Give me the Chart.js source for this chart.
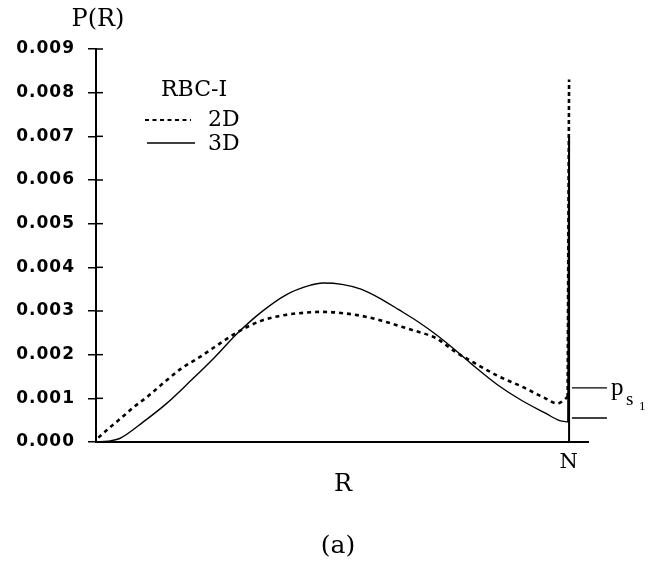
<!DOCTYPE html>
<html>
<head>
<meta charset="utf-8">
<script src="https://cdn.jsdelivr.net/npm/chart.js@4/dist/chart.umd.min.js"></script>
<style>
  html, body { margin: 0; padding: 0; background: #fff; }
  #wrap { width: 658px; height: 566px; }
</style>
</head>
<body>
<div id="wrap"><canvas id="chart" width="658" height="566"></canvas></div>
<script>
// R in units of N (N = 100), probability P(R)
const r3D = [0, 2.5, 5, 10, 15, 20, 25, 30, 35, 40, 45, 48, 52, 56, 60, 64, 68, 72, 76, 80, 85, 90, 95, 98, 99.8];
const p3D = [0, 0.00002, 0.00008, 0.00046, 0.00089, 0.00140, 0.00193, 0.00250, 0.00298, 0.00336, 0.00358, 0.00364, 0.00361, 0.00350, 0.00329, 0.00303, 0.00276, 0.00245, 0.00210, 0.00173, 0.00130, 0.00095, 0.00066, 0.00049, 0.00046];
const r2D = [0.5, 3, 5, 8, 11, 15, 18, 22, 25, 30, 35, 40, 44, 48, 53, 57, 60, 64, 67, 72, 76, 80, 85, 90, 95, 97.5, 99.7];
const p2D = [0.00010, 0.00034, 0.00052, 0.00080, 0.00105, 0.00142, 0.00168, 0.00195, 0.00217, 0.00252, 0.00278, 0.00291, 0.00296, 0.00298, 0.00294, 0.00287, 0.00279, 0.00266, 0.00256, 0.00237, 0.00206, 0.00181, 0.00151, 0.00127, 0.00100, 0.00088, 0.00103];
// spikes at R = N
const spikeR = 100;
const spike3D = 0.0070;
const spike2D = 0.0083;
// p_s1 marker levels
const psLevels = [0.00124, 0.00055];
const yTicks = [0, 0.001, 0.002, 0.003, 0.004, 0.005, 0.006, 0.007, 0.008, 0.009];

const pts = (xs, ys) => xs.map((x, i) => ({ x: x, y: ys[i] }));

const curve3D = pts(r3D, p3D);
const curve2D = pts(r2D, p2D);
const tail3D = [curve3D[curve3D.length - 1], { x: spikeR, y: spike3D }, { x: spikeR, y: 0 }];
const tail2D = [curve2D[curve2D.length - 1], { x: spikeR, y: spike2D }];

const serif = '"DejaVu Serif", serif';

const decor = {
  id: 'decor',
  beforeDraw(chart) {
    chart.ctx.letterSpacing = '1px';
  },
  afterDraw(chart) {
    const ctx = chart.ctx;
    const xs = chart.scales.x, ys = chart.scales.y;
    const left = chart.chartArea.left;
    ctx.save();
    ctx.letterSpacing = '0px';
    ctx.strokeStyle = '#000';
    ctx.fillStyle = '#000';
    // inner halves of the y ticks
    ctx.lineWidth = 1.5;
    yTicks.forEach(v => {
      const y = ys.getPixelForValue(v);
      ctx.beginPath();
      ctx.moveTo(left, y);
      ctx.lineTo(left + 7, y);
      ctx.stroke();
    });
    // p_s1 markers
    ctx.lineWidth = 1.3;
    psLevels.forEach(v => {
      const y = ys.getPixelForValue(v);
      ctx.beginPath();
      ctx.moveTo(xs.getPixelForValue(100.6), y);
      ctx.lineTo(xs.getPixelForValue(108), y);
      ctx.stroke();
    });
    ctx.textBaseline = 'alphabetic';
    ctx.textAlign = 'left';
    ctx.font = '25px "Liberation Serif", serif';
    ctx.fillText('p', 611, 395);
    ctx.font = '19px "Liberation Serif", serif';
    ctx.fillText('s', 626, 405);
    ctx.font = '13px "Liberation Serif", serif';
    ctx.fillText('1', 639, 410);

    // axis titles
    ctx.textBaseline = 'middle';
    ctx.textAlign = 'center';
    ctx.font = '24px ' + serif;
    ctx.fillText('P(R)', 98, 20);
    ctx.fillText('R', 343, 485);
    ctx.font = '25px ' + serif;
    ctx.fillText('(a)', 338, 546);

    // legend
    ctx.textAlign = 'left';
    ctx.font = '22px ' + serif;
    ctx.fillText('RBC-I', 161, 90);
    ctx.fillText('2D', 208, 120);
    ctx.fillText('3D', 208, 144);
    ctx.lineWidth = 2.2;
    ctx.setLineDash([4, 3.5]);
    ctx.beginPath();
    ctx.moveTo(145, 120);
    ctx.lineTo(191, 120);
    ctx.stroke();
    ctx.setLineDash([]);
    ctx.lineWidth = 1.3;
    ctx.beginPath();
    ctx.moveTo(147, 143);
    ctx.lineTo(195, 143);
    ctx.stroke();
    ctx.restore();
  }
};

new Chart(document.getElementById('chart'), {
  type: 'line',
  data: {
    datasets: [
      { label: '3D', data: curve3D, borderColor: '#000', borderWidth: 1.4, pointRadius: 0, cubicInterpolationMode: 'monotone', fill: false },
      { label: '2D', data: curve2D, borderColor: '#000', borderWidth: 2.6, borderDash: [4, 4], pointRadius: 0, cubicInterpolationMode: 'monotone', fill: false },
      { label: '3D spike', data: tail3D, borderColor: '#000', borderWidth: 2, pointRadius: 0, tension: 0, fill: false },
      { label: '2D spike', data: tail2D, borderColor: '#000', borderWidth: 2.6, borderDash: [4, 3], pointRadius: 0, tension: 0, fill: false }
    ]
  },
  options: {
    responsive: false,
    animation: false,
    layout: { padding: { top: 49, right: 70, left: 0, bottom: 0 } },
    plugins: { legend: { display: false }, tooltip: { enabled: false } },
    scales: {
      x: {
        type: 'linear',
        min: 0,
        max: 104,
        afterBuildTicks: s => { s.ticks = [{ value: spikeR }]; },
        afterFit: s => { s.height = 124; },
        grid: { display: false },
        border: { display: true, color: '#000', width: 2 },
        ticks: {
          callback: () => 'N',
          color: '#000',
          padding: 0,
          maxRotation: 0,
          font: { family: serif, size: 21 }
        }
      },
      y: {
        min: 0,
        max: 0.009,
        afterBuildTicks: s => { s.ticks = yTicks.map(v => ({ value: v })); },
        afterFit: s => { s.width = 96; },
        grid: { drawOnChartArea: false, drawTicks: true, tickLength: 8, color: '#000', lineWidth: 1.5 },
        border: { display: true, color: '#000', width: 2 },
        ticks: {
          callback: v => v.toFixed(3),
          color: '#000',
          padding: 13,
          font: { family: '"DejaVu Sans", sans-serif', weight: 'bold', size: 17 }
        }
      }
    }
  },
  plugins: [decor]
});
</script>
</body>
</html>
